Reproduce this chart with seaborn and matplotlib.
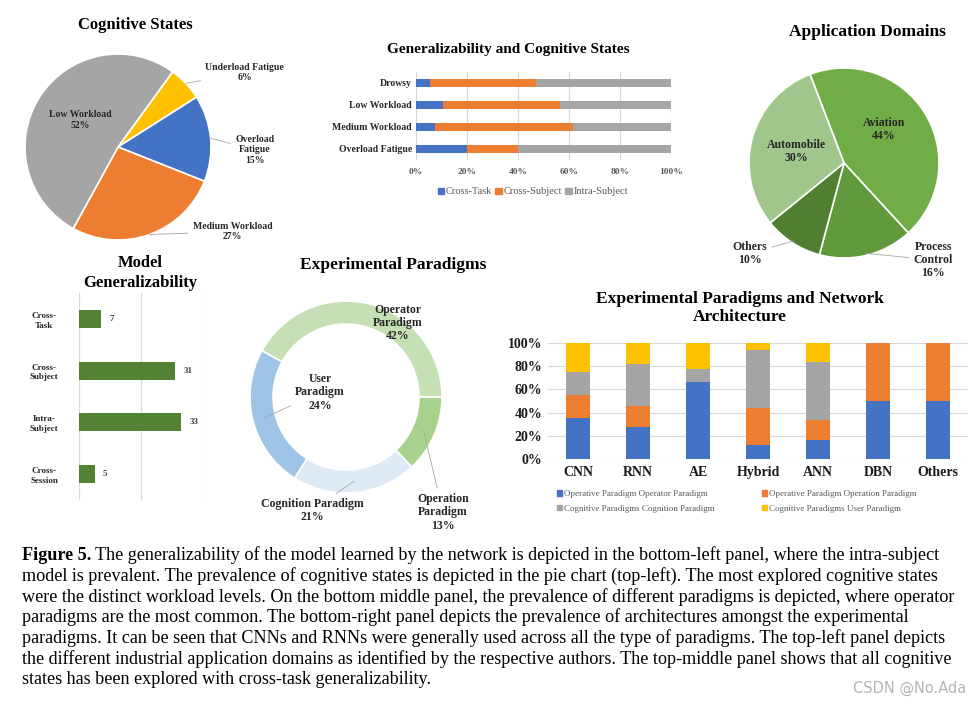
import matplotlib
matplotlib.use("Agg")
import matplotlib.pyplot as plt
from matplotlib.patches import Patch
from matplotlib.ticker import PercentFormatter
import numpy as np
import seaborn as sns

# ---- data ----
cog_labels = ["Underload Fatigue\n6%", "Overload\nFatigue\n15%", "Medium Workload\n27%", "Low Workload\n52%"]
cog_values = [6, 15, 27, 52]
cog_colors = ["#FFC000", "#4472C4", "#ED7D31", "#A5A5A5"]

gen_states = ["Drowsy", "Low Workload", "Medium Workload", "Overload Fatigue"]
gen_cross_task = [5.6, 10.6, 7.6, 20.0]
gen_cross_subject = [41.4, 45.9, 53.8, 20.0]
gen_intra_subject = [53.0, 43.5, 38.6, 60.0]

app_labels = ["Aviation\n44%", "Process\nControl\n16%", "Others\n10%", "Automobile\n30%"]
app_values = [44, 16, 10, 30]
app_colors = ["#70AD47", "#61993D", "#507F32", "#A1C68B"]

model_labels = ["Cross-\nTask", "Cross-\nSubject", "Intra-\nSubject", "Cross-\nSession"]
model_counts = [7, 31, 33, 5]

para_labels = ["Operator\nParadigm\n42%", "Operation\nParadigm\n13%", "Cognition Paradigm\n21%", "User\nParadigm\n24%"]
para_values = [42, 13, 21, 24]
para_colors = ["#C5E0B4", "#A9D18E", "#DEEBF7", "#9DC3E6"]

archs = ["CNN", "RNN", "AE", "Hybrid", "ANN", "DBN", "Others"]
arch_operator = [35.0, 27.3, 66.7, 12.5, 16.7, 50.0, 50.0]
arch_operation = [20.0, 18.2, 0.0, 31.25, 16.7, 50.0, 50.0]
arch_cognition = [20.0, 36.4, 11.1, 50.0, 50.0, 0.0, 0.0]
arch_user = [25.0, 18.1, 22.2, 6.25, 16.6, 0.0, 0.0]
arch_series = ["Operative Paradigm Operator Paradigm", "Operative Paradigm Operation Paradigm",
               "Cognitive Paradigms Cognition Paradigm", "Cognitive Paradigms User Paradigm"]

caption = [
    "The generalizability of the model learned by the network is depicted in the bottom-left panel, where the intra-subject",
    "model is prevalent. The prevalence of cognitive states is depicted in the pie chart (top-left). The most explored cognitive states",
    "were the distinct workload levels. On the bottom middle panel, the prevalence of different paradigms is depicted, where operator",
    "paradigms are the most common. The bottom-right panel depicts the prevalence of architectures amongst the experimental",
    "paradigms. It can be seen that CNNs and RNNs were generally used across all the type of paradigms. The top-left panel depicts",
    "the different industrial application domains as identified by the respective authors. The top-middle panel shows that all cognitive",
    "states has been explored with cross-task generalizability.",
]

sns.set_theme(style="white")
plt.rcParams['font.family'] = ['Liberation Serif', 'DejaVu Serif']

W, H = 972, 705
fig = plt.figure(figsize=(W / 100, H / 100), dpi=100)
GRID = "#D9D9D9"
LEAD = "#A6A6A6"


def box(x0, y0, x1, y1):
    return fig.add_axes([x0 / W, 1 - y1 / H, (x1 - x0) / W, (y1 - y0) / H])


def pie_axes(cx, cy, r, span=1.7):
    ax = box(cx - r * span, cy - r * span, cx + r * span, cy + r * span)
    ax.set_xlim(-span, span)
    ax.set_ylim(-span, span)
    ax.set_aspect("equal")
    ax.axis("off")
    return ax


def wedge_point(wedge, r):
    ang = np.deg2rad((wedge.theta1 + wedge.theta2) / 2)
    return (r * np.cos(ang), r * np.sin(ang))


def title(x, y, s, size, ls=1.0):
    fig.text(x / W, 1 - y / H, s, ha="center", va="center", fontsize=size,
             fontweight="bold", color="black", linespacing=ls)


# ---- Cognitive States pie ----
ax = pie_axes(118, 147, 93)
wedges, _ = ax.pie(cog_values, colors=cog_colors, startangle=54, counterclock=False,
                   wedgeprops=dict(edgecolor="white", linewidth=1.2))
ax.set_xlim(-1.7, 1.7); ax.set_ylim(-1.7, 1.7)
cog_pos = [(1.36, 0.80), (1.47, -0.03), (1.23, -0.91), (-0.41, 0.29)]
for w, lab, pos in zip(wedges, cog_labels, cog_pos):
    lead = None if lab.startswith("Low") else dict(arrowstyle="-", color=LEAD, lw=0.6, shrinkA=1, shrinkB=0)
    ax.annotate(lab, xy=wedge_point(w, 1.0), xytext=pos, ha="center", va="center",
                fontsize=7, fontweight="bold", color="#262626", arrowprops=lead, linespacing=1.2)
title(135, 25, "Cognitive States", 12)

# ---- Generalizability and Cognitive States ----
ax = box(416, 72, 671, 160)
cum2 = [a + b for a, b in zip(gen_cross_task, gen_cross_subject)]
cum3 = [a + b for a, b in zip(cum2, gen_intra_subject)]
for vals, col in [(cum3, "#A5A5A5"), (cum2, "#ED7D31"), (gen_cross_task, "#4472C4")]:
    sns.barplot(x=vals, y=gen_states, orient="h", color=col, width=0.4, saturation=1,
                linewidth=0, ax=ax, zorder=3)
ax.set_xlim(0, 100)
ax.set_xticks(range(0, 101, 20))
ax.xaxis.set_major_formatter(PercentFormatter(decimals=0))
ax.grid(axis="x", color=GRID, lw=0.8, zorder=0)
ax.set_xlabel(""); ax.set_ylabel("")
for s in ax.spines.values():
    s.set_visible(False)
ax.tick_params(axis="x", length=0, labelsize=6.8, labelcolor="#595959", pad=6)
ax.tick_params(axis="y", length=0, labelsize=7, labelcolor="#262626", pad=3)
for t in ax.get_xticklabels() + ax.get_yticklabels():
    t.set_fontweight("bold")
ax.legend(handles=[Patch(color=c, label=l) for c, l in
                   [("#4472C4", "Cross-Task"), ("#ED7D31", "Cross-Subject"), ("#A5A5A5", "Intra-Subject")]],
          loc="center", bbox_to_anchor=(533 / W, 1 - 192 / H), bbox_transform=fig.transFigure,
          ncol=3, frameon=False, fontsize=7.5, handlelength=0.6, handleheight=0.6,
          handletextpad=0.2, columnspacing=0.3, labelcolor="#595959")
title(508, 50, "Generalizability and Cognitive States", 11)

# ---- Application Domains pie ----
ax = pie_axes(844, 163, 95)
wedges, _ = ax.pie(app_values, colors=app_colors, startangle=111, counterclock=False,
                   wedgeprops=dict(edgecolor="white", linewidth=1.2))
ax.set_xlim(-1.7, 1.7); ax.set_ylim(-1.7, 1.7)
app_pos = [(0.42, 0.35), (0.94, -1.02), (-0.99, -0.95), (-0.50, 0.12)]
for w, lab, pos in zip(wedges, app_labels, app_pos):
    inside = lab.startswith("Aviation") or lab.startswith("Automobile")
    lead = None if inside else dict(arrowstyle="-", color=LEAD, lw=0.6, shrinkA=1, shrinkB=0)
    ax.annotate(lab, xy=wedge_point(w, 0.98), xytext=pos, ha="center", va="center",
                fontsize=8.5, fontweight="bold", color="#262626", arrowprops=lead, linespacing=1.15)
title(867, 32, "Application Domains", 12.5)

# ---- Model Generalizability ----
ax = box(79, 293, 203, 500)
sns.barplot(x=model_counts, y=model_labels, orient="h", color="#548235", width=0.35,
            saturation=1, linewidth=0, ax=ax, zorder=3)
ax.set_xlim(0, 40)
ax.set_xticks([0, 20, 40])
ax.set_xticklabels([])
ax.grid(axis="x", color=GRID, lw=0.9, zorder=0)
ax.set_xlabel(""); ax.set_ylabel("")
for s in ax.spines.values():
    s.set_visible(False)
ax.tick_params(axis="both", length=0)
ax.tick_params(axis="y", labelsize=6.5, labelcolor="#262626", pad=8)
for t in ax.get_yticklabels():
    t.set_fontweight("bold")
    t.set_horizontalalignment("center")
    t.set_x(-0.19)
    t.set_linespacing(1.3)
for i, v in enumerate(model_counts):
    ax.annotate(str(v), xy=(v, i), xytext=(6, 0), textcoords="offset points",
                va="center", ha="left", fontsize=6.5, fontweight="bold", color="#404040")
title(140, 273, "Model\nGeneralizability", 12, ls=1.3)

# ---- Experimental Paradigms donut ----
ax = pie_axes(346, 397, 96)
wedges, _ = ax.pie(para_values, colors=para_colors, startangle=151.2, counterclock=False,
                   wedgeprops=dict(width=0.24, edgecolor="white", linewidth=1.2))
ax.set_xlim(-1.7, 1.7); ax.set_ylim(-1.7, 1.7)
para_pos = [(0.54, 0.77), (1.01, -1.20), (-0.35, -1.18), (-0.27, 0.05)]
for w, lab, pos in zip(wedges, para_labels, para_pos):
    lead = None if lab.startswith("Operator") else dict(arrowstyle="-", color=LEAD, lw=0.6, shrinkA=1, shrinkB=0)
    ax.annotate(lab, xy=wedge_point(w, 0.88), xytext=pos, ha="center", va="center",
                fontsize=8.5, fontweight="bold", color="#262626", arrowprops=lead, linespacing=1.15)
title(393, 265, "Experimental Paradigms", 12.5)

# ---- Experimental Paradigms and Network Architecture ----
ax = box(548, 343, 968, 459)
c1 = arch_operator
c2 = [a + b for a, b in zip(c1, arch_operation)]
c3 = [a + b for a, b in zip(c2, arch_cognition)]
c4 = [a + b for a, b in zip(c3, arch_user)]
arch_colors = ["#4472C4", "#ED7D31", "#A5A5A5", "#FFC000"]
for vals, col in zip([c4, c3, c2, c1], arch_colors[::-1]):
    sns.barplot(x=archs, y=vals, color=col, width=0.4, saturation=1, linewidth=0, ax=ax, zorder=3)
ax.set_ylim(0, 100)
ax.set_yticks(range(0, 101, 20))
ax.yaxis.set_major_formatter(PercentFormatter(decimals=0))
ax.grid(axis="y", color=GRID, lw=0.8, zorder=0)
ax.set_xlabel(""); ax.set_ylabel("")
for s in ax.spines.values():
    s.set_visible(False)
ax.tick_params(axis="both", length=0, labelsize=10, labelcolor="#1a1a1a")
ax.tick_params(axis="x", pad=5)
ax.tick_params(axis="y", pad=4)
for t in ax.get_xticklabels() + ax.get_yticklabels():
    t.set_fontweight("bold")
handles = [Patch(color=c, label=l) for c, l in zip(arch_colors, arch_series)]
ax.legend(handles=[handles[0], handles[2], handles[1], handles[3]],
          loc="upper left", bbox_to_anchor=(549 / W, 1 - 482 / H), bbox_transform=fig.transFigure,
          ncol=2, frameon=False, fontsize=6.5, handlelength=0.55, handleheight=0.55,
          handletextpad=0.2, columnspacing=5.3, labelspacing=0.75, labelcolor="#595959")
title(740, 308, "Experimental Paradigms and Network\nArchitecture", 12.5, ls=1.2)

# ---- caption ----
cap = fig.add_axes([0, 0, 1, 1])
cap.axis("off")
cap.set_zorder(-1)
y0, dy = 555, 20.8
fs = 13.1
head = cap.text(22 / W, 1 - y0 / H, "Figure 5.", fontsize=fs, fontweight="bold", va="center", color="black")
cap.annotate(caption[0], xy=(1, 0.5), xycoords=head, xytext=(3, 0), textcoords="offset points",
             va="center", fontsize=fs, color="black")
for i, line in enumerate(caption[1:], start=1):
    cap.text(22 / W, 1 - (y0 + i * dy) / H, line, fontsize=fs, va="center", color="black")
cap.text(966 / W, 1 - 688 / H, "CSDN @No.Ada", fontsize=10.5, ha="right", va="center",
         color="#B5B5B5", family="DejaVu Sans")

fig.savefig("out.png", dpi=100)
